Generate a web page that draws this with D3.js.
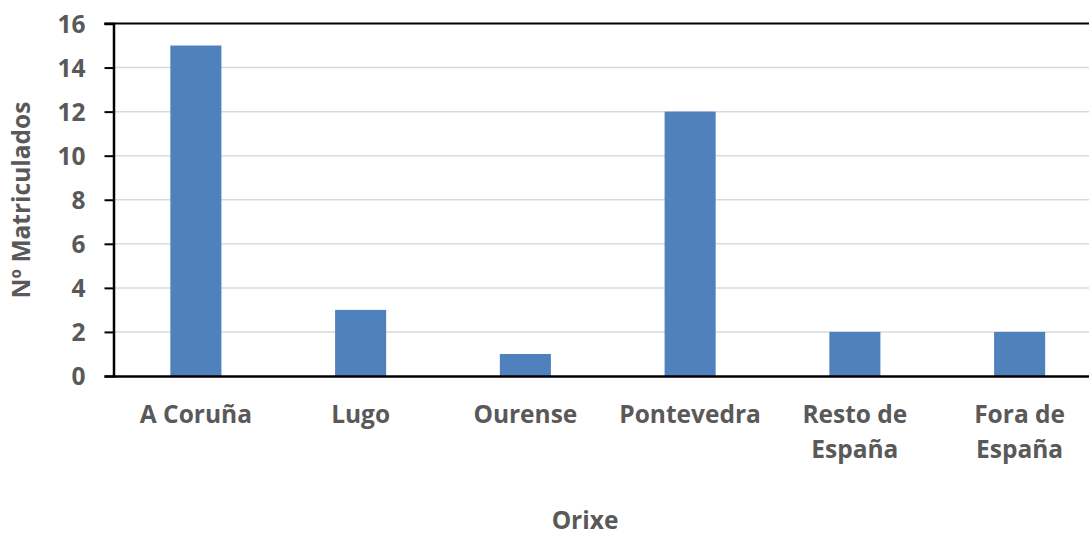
<!DOCTYPE html>
<html>
<head>
<meta charset="utf-8">
<script src="https://cdn.jsdelivr.net/npm/d3@7"></script>
<style>
  body { margin: 0; background: #fff; overflow: hidden; }
  text { font-family: "Open Sans", sans-serif; font-weight: bold; fill: #595959; }
</style>
</head>
<body>
<svg id="chart" width="1089" height="535"></svg>
<script>
var categories = [["A Coruña"], ["Lugo"], ["Ourense"], ["Pontevedra"], ["Resto de", "España"], ["Fora de", "España"]];
var values = [15, 3, 1, 12, 2, 2];
var yTicks = [0, 2, 4, 6, 8, 10, 12, 14, 16];

var svg = d3.select("#chart")
  , plotLeft = 113.5
  , plotRight = 1102
  , plotTop = 23.5
  , plotBottom = 376
  , fontSize = 24.5;

var keys = categories.map(function(c){ return c.join(" "); });

// band scale, bars centered in each category
var x = d3.scaleBand()
  .domain(keys)
  .range([plotLeft, plotRight])
  .paddingInner(0.69)
  .paddingOuter(0.345);

var y = d3.scaleLinear()
  .domain([0, 16])
  .range([plotBottom, plotTop]);

// gridlines
svg.append("g")
  .selectAll("line")
  .data(yTicks.filter(function(t){ return t > 0 && t < 16; }))
  .enter().append("line")
  .attr("x1", plotLeft).attr("x2", plotRight)
  .attr("y1", function(d){ return y(d); })
  .attr("y2", function(d){ return y(d); })
  .attr("stroke", "#d9d9d9")
  .attr("stroke-width", 1.5);

// bars
svg.append("g")
  .selectAll("rect")
  .data(values)
  .enter().append("rect")
  .attr("x", function(d, i){ return x(keys[i]); })
  .attr("width", x.bandwidth())
  .attr("y", function(d){ return y(d); })
  .attr("height", function(d){ return plotBottom - y(d); })
  .attr("fill", "#4f81bd");

// top border
svg.append("line")
  .attr("x1", plotLeft - 9).attr("x2", plotRight)
  .attr("y1", plotTop).attr("y2", plotTop)
  .attr("stroke", "#000").attr("stroke-width", 2);

// y axis
var yAxis = d3.axisLeft(y).tickValues(yTicks).tickSize(9).tickPadding(19);
var gy = svg.append("g").attr("transform", "translate(" + plotLeft + ",0)").call(yAxis);
gy.select(".domain").attr("stroke", "#000").attr("stroke-width", 2.5);
gy.selectAll(".tick line").attr("stroke", "#000").attr("stroke-width", 2);
gy.selectAll(".tick text")
  .attr("font-size", fontSize)
  .attr("font-family", null)
  .attr("fill", "#595959")
  .attr("dy", "0.36em");

// x axis baseline
var xAxis = d3.axisBottom(x).tickSize(0).tickFormat("");
var gx = svg.append("g").attr("transform", "translate(0," + plotBottom + ")").call(xAxis);
gx.select(".domain").attr("stroke", "#000").attr("stroke-width", 2.5);

// category labels (wrapped)
var lab = svg.append("g").selectAll("text")
  .data(categories)
  .enter().append("text")
  .attr("text-anchor", "middle")
  .attr("font-size", fontSize)
  .attr("x", function(d, i){ return x(keys[i]) + x.bandwidth() / 2; })
  .attr("y", 423);
lab.selectAll("tspan")
  .data(function(d){ return d; })
  .enter().append("tspan")
  .attr("x", function(){ return d3.select(this.parentNode).attr("x"); })
  .attr("dy", function(d, i){ return i ? 35 : 0; })
  .text(function(d){ return d; });

// axis titles
svg.append("text")
  .attr("text-anchor", "middle")
  .attr("font-size", fontSize)
  .attr("x", 585)
  .attr("y", 529)
  .text("Orixe");

svg.append("text")
  .attr("text-anchor", "middle")
  .attr("font-size", fontSize)
  .attr("transform", "translate(30,200) rotate(-90)")
  .text("Nº Matriculados");
</script>
</body>
</html>
